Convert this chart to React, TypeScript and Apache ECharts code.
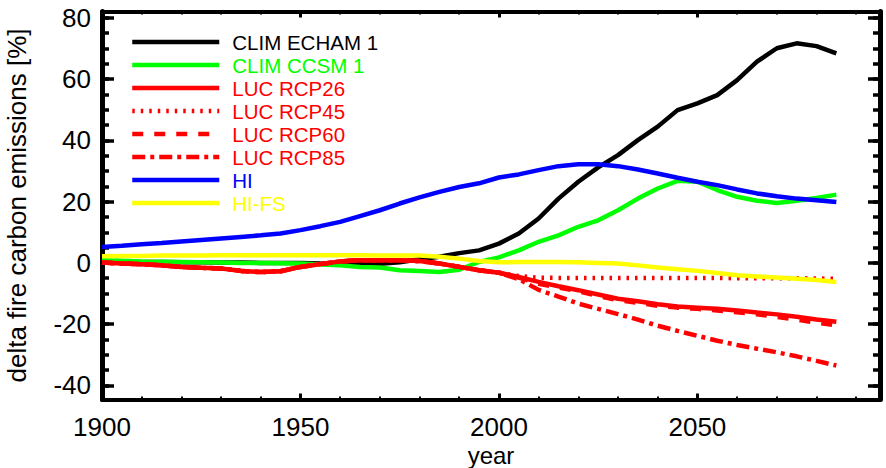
import React, { useEffect, useRef } from "react";
import * as echarts from "echarts";

const years = [1900, 1905, 1910, 1915, 1920, 1925, 1930, 1935, 1940, 1945, 1950, 1955, 1960, 1965, 1970, 1975, 1980, 1985, 1990, 1995, 2000, 2005, 2010, 2015, 2020, 2025, 2030, 2035, 2040, 2045, 2050, 2055, 2060, 2065, 2070, 2075, 2080, 2085];

const climEcham = [0.5, 0.4, 0.3, 0.3, 0.2, 0.2, 0.1, 0.1, 0.0, 0.0, 0.0, -0.2, -0.3, -0.4, -0.3, 0.2, 1.2, 2.0, 3.2, 4.1, 6.3, 9.6, 14.5, 21.0, 26.5, 31.2, 35.2, 40.1, 44.5, 49.9, 52.1, 54.8, 59.7, 65.7, 70.1, 71.7, 70.8, 68.4];
const climCcsm = [0.9, 0.7, 0.5, 0.4, 0.3, 0.2, 0.1, 0.0, 0.0, -0.1, -0.2, -0.5, -0.8, -1.3, -1.5, -2.4, -2.6, -3.0, -2.2, 0.3, 1.8, 4.1, 6.9, 9.0, 11.8, 13.9, 17.2, 21.0, 24.3, 26.8, 26.5, 23.8, 21.6, 20.3, 19.6, 20.3, 21.2, 22.3];
const lucRcp26 = [0.1, -0.2, -0.4, -0.8, -1.3, -1.6, -1.8, -2.6, -3.0, -2.7, -1.3, -0.4, 0.5, 0.9, 0.9, 0.9, 0.6, -0.2, -1.3, -2.4, -3.2, -4.6, -6.2, -7.6, -8.9, -10.3, -11.7, -12.5, -13.5, -14.2, -14.6, -15.0, -15.5, -16.2, -16.8, -17.6, -18.5, -19.2];
const lucRcp45 = [0.1, -0.2, -0.4, -0.8, -1.3, -1.6, -1.8, -2.6, -3.0, -2.7, -1.3, -0.4, 0.5, 0.9, 0.9, 0.9, 0.6, -0.2, -1.3, -2.4, -3.2, -4.3, -4.8, -4.9, -4.9, -4.9, -4.9, -4.9, -4.9, -4.9, -4.9, -4.9, -5.0, -5.0, -5.0, -5.0, -5.1, -5.2];
const lucRcp60 = [0.1, -0.2, -0.4, -0.8, -1.3, -1.6, -1.8, -2.6, -3.0, -2.7, -1.3, -0.4, 0.5, 0.9, 0.9, 0.9, 0.6, -0.2, -1.3, -2.4, -3.2, -4.8, -6.8, -8.0, -9.3, -10.8, -12.2, -13.0, -14.0, -14.6, -15.0, -15.5, -16.1, -16.8, -17.6, -18.5, -19.5, -20.4];
const lucRcp85 = [0.1, -0.2, -0.4, -0.8, -1.3, -1.6, -1.8, -2.6, -3.0, -2.7, -1.3, -0.4, 0.5, 0.9, 0.9, 0.9, 0.6, -0.2, -1.3, -2.4, -3.2, -5.3, -8.8, -11.0, -13.3, -15.0, -16.7, -18.5, -20.5, -22.2, -23.8, -25.4, -26.8, -28.0, -29.2, -30.5, -32.0, -33.5];
const hi = [5.2, 5.6, 6.1, 6.5, 7.0, 7.5, 8.0, 8.5, 9.0, 9.6, 10.7, 12.0, 13.4, 15.3, 17.2, 19.4, 21.4, 23.2, 24.8, 26.0, 27.9, 28.9, 30.3, 31.6, 32.2, 32.2, 31.6, 30.5, 29.2, 27.8, 26.5, 25.4, 24.0, 22.7, 21.8, 21.0, 20.5, 19.9];
const hiFs = [2.2, 2.3, 2.3, 2.4, 2.4, 2.4, 2.5, 2.5, 2.5, 2.5, 2.5, 2.5, 2.5, 2.5, 2.4, 2.4, 2.4, 2.0, 1.4, 0.6, 0.2, 0.3, 0.3, 0.3, 0.2, 0.0, -0.2, -0.8, -1.5, -2.1, -2.6, -3.3, -4.0, -4.4, -4.8, -5.2, -5.6, -6.2];

const seriesNames = ["CLIM ECHAM 1", "CLIM CCSM 1", "LUC RCP26", "LUC RCP45", "LUC RCP60", "LUC RCP85", "HI", "HI-FS"];
const seriesValues = [climEcham, climCcsm, lucRcp26, lucRcp45, lucRcp60, lucRcp85, hi, hiFs];
const seriesColors = ["#000000", "#00ff00", "#ff0000", "#ff0000", "#ff0000", "#ff0000", "#0000ff", "#ffff00"];
const seriesDash: any[] = ["solid", "solid", "solid", [2.5, 6], [11, 11], [13, 5, 4, 5], "solid", "solid"];

const FONT = "'Liberation Sans', Arial, Helvetica, sans-serif";

export default function App() {
  const ref = useRef<HTMLDivElement>(null);
  useEffect(() => {
    if (!ref.current) return;
    const chart = echarts.init(ref.current, null, { renderer: "svg" });
    const axisColor = "#000";
    const xCommon = { type: "value", min: 1900, max: 2096, splitLine: { show: false } };
    const yCommon = { type: "value", min: -44.6, max: 82.1, splitLine: { show: false } };
    const fmt = (v: number) => String(v);
    const series = seriesNames.map((name, i) => ({
      name,
      type: "line",
      xAxisIndex: 0,
      yAxisIndex: 0,
      symbol: "none",
      showSymbol: false,
      data: years.map((y, j) => [y, seriesValues[i][j]]),
      lineStyle: { color: seriesColors[i], width: 4.5, type: seriesDash[i] },
      itemStyle: { color: seriesColors[i] },
      emphasis: { disabled: true },
    }));
    chart.setOption({
      animation: false,
      grid: { left: 102, right: 6, top: 11.5, bottom: 68.5, containLabel: false, outerBoundsMode: "none" },
      legend: {
        orient: "vertical",
        left: 130,
        top: 31,
        padding: 0,
        itemWidth: 87,
        itemHeight: 14,
        itemGap: 1,
        selectedMode: false,
        itemStyle: { opacity: 0, borderWidth: 0 },
        lineStyle: { width: 4.5 },
        textStyle: { fontFamily: FONT, fontSize: 20.5, lineHeight: 22, padding: [0, 0, 0, 8] },
        data: seriesNames.map((n, i) => ({ name: n, textStyle: { color: seriesColors[i] } })),
      },
      xAxis: [
        {
          ...xCommon,
          position: "bottom",
          minInterval: 50,
          maxInterval: 50,
          axisLine: { show: true, onZero: false, lineStyle: { color: axisColor, width: 4 } },
          axisTick: { show: true, inside: true, length: 6, lineStyle: { color: axisColor, width: 3 } },
          axisLabel: { show: true, color: "#000", fontFamily: FONT, fontSize: 26, margin: 14, showMaxLabel: false, formatter: fmt },
          name: "year",
          nameLocation: "middle",
          nameGap: 43.5,
          nameMoveOverlap: false,
          nameTextStyle: { color: "#000", fontFamily: FONT, fontSize: 24 },
        },
        {
          ...xCommon,
          position: "bottom",
          minInterval: 10,
          maxInterval: 10,
          axisLine: { show: false, onZero: false },
          axisTick: { show: true, inside: true, length: 3, lineStyle: { color: axisColor, width: 2 } },
          axisLabel: { show: false },
        },
        {
          ...xCommon,
          position: "top",
          minInterval: 50,
          maxInterval: 50,
          axisLine: { show: true, onZero: false, lineStyle: { color: axisColor, width: 4 } },
          axisTick: { show: true, inside: true, length: 6, lineStyle: { color: axisColor, width: 3 } },
          axisLabel: { show: false },
        },
        {
          ...xCommon,
          position: "top",
          minInterval: 10,
          maxInterval: 10,
          axisLine: { show: false, onZero: false },
          axisTick: { show: true, inside: true, length: 3, lineStyle: { color: axisColor, width: 2 } },
          axisLabel: { show: false },
        },
      ],
      yAxis: [
        {
          ...yCommon,
          position: "left",
          minInterval: 20,
          maxInterval: 20,
          axisLine: { show: true, onZero: false, lineStyle: { color: axisColor, width: 5 } },
          axisTick: { show: true, inside: true, length: 12, lineStyle: { color: axisColor, width: 3.5 } },
          axisLabel: { show: true, color: "#000", fontFamily: FONT, fontSize: 26, margin: 11, showMinLabel: false, showMaxLabel: false, formatter: fmt },
          name: "delta fire carbon emissions [%]",
          nameLocation: "middle",
          nameGap: 72,
          nameMoveOverlap: false,
          nameTextStyle: { color: "#000", fontFamily: FONT, fontSize: 26 },
        },
        {
          ...yCommon,
          position: "left",
          minInterval: 5,
          maxInterval: 5,
          axisLine: { show: false, onZero: false },
          axisTick: { show: true, inside: true, length: 7, lineStyle: { color: axisColor, width: 3.5 } },
          axisLabel: { show: false },
        },
        {
          ...yCommon,
          position: "right",
          minInterval: 20,
          maxInterval: 20,
          axisLine: { show: true, onZero: false, lineStyle: { color: axisColor, width: 5 } },
          axisTick: { show: true, inside: true, length: 12, lineStyle: { color: axisColor, width: 3.5 } },
          axisLabel: { show: false },
        },
        {
          ...yCommon,
          position: "right",
          minInterval: 5,
          maxInterval: 5,
          axisLine: { show: false, onZero: false },
          axisTick: { show: true, inside: true, length: 7, lineStyle: { color: axisColor, width: 3.5 } },
          axisLabel: { show: false },
        },
      ],
      series,
    });
    return () => chart.dispose();
  }, []);
  return (
    <div
      ref={ref}
      style={{ position: "absolute", left: 0, top: 0, width: 886, height: 468, background: "#fff" }}
    />
  );
}
